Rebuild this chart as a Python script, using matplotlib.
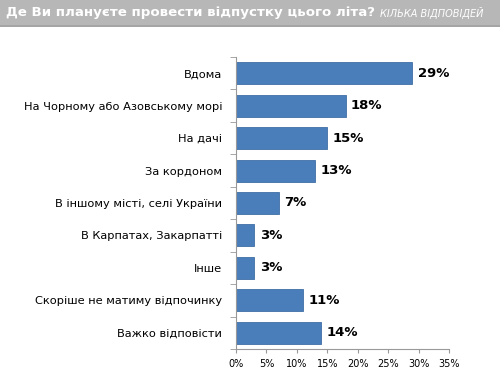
import matplotlib.pyplot as plt
from matplotlib.ticker import FuncFormatter, MultipleLocator
import matplotlib.patches as mpatches

categories = ["Вдома", "На Чорному або Азовському морі", "На дачі", "За кордоном",
              "В іншому місті, селі України", "В Карпатах, Закарпатті", "Інше",
              "Скоріше не матиму відпочинку", "Важко відповісти"]
values = [29, 18, 15, 13, 7, 3, 3, 11, 14]
title_main = "Де Ви плануєте провести відпустку цього літа?"
title_sub = "КІЛЬКА ВІДПОВІДЕЙ"

fig = plt.figure(figsize=(5, 3.71), dpi=100)
fig.patch.set_facecolor("white")

# title band
band = mpatches.Rectangle((0, 1 - 25/371), 1, 25/371, transform=fig.transFigure,
                          facecolor="#b7b7b7", edgecolor="none", zorder=0)
fig.patches.append(band)
line = mpatches.Rectangle((0, 1 - 26.5/371), 1, 1.5/371, transform=fig.transFigure,
                          facecolor="#a5a5a5", edgecolor="none", zorder=0)
fig.patches.append(line)
t1 = fig.text(6/500, 1 - 12.5/371, title_main, color="white", fontsize=9.6,
              fontweight="bold", family="DejaVu Sans", va="center", ha="left")
fig.canvas.draw()
bb = t1.get_window_extent()
fig.text(bb.x1/500 + 5/500, 1 - 13/371, title_sub, color="white", fontsize=7,
         style="italic", family="DejaVu Sans", va="center", ha="left")

ax = fig.add_axes([236/500, 1 - 349/371, 213/500, (349 - 57)/371])
y = list(range(len(categories)))
ax.barh(y, values, height=0.68, color="#4a7ebb", edgecolor="#3f6fa6", linewidth=0.6)
ax.set_ylim(len(categories) - 0.5, -0.5)
ax.set_xlim(0, 35)
ax.xaxis.set_major_locator(MultipleLocator(5))
ax.xaxis.set_major_formatter(FuncFormatter(lambda v, p: f"{int(v)}%"))
ax.set_yticks(y)
ax.set_yticklabels(categories, fontsize=8.2, family="DejaVu Sans")
ax.tick_params(axis="y", length=0, pad=10)
ax.set_yticks([i + 0.5 for i in range(-1, len(categories))], minor=True)
ax.tick_params(axis="y", which="minor", length=4, color="#999999", direction="out")
ax.tick_params(axis="x", labelsize=7, length=3, color="#999999", pad=4)
for s in ["top", "right"]:
    ax.spines[s].set_visible(False)
for s in ["left", "bottom"]:
    ax.spines[s].set_color("#999999")
    ax.spines[s].set_linewidth(0.8)
for yi, v in zip(y, values):
    ax.text(v + 0.9, yi, f"{v}%", va="center", ha="left", fontsize=9.5,
            fontweight="bold", family="DejaVu Sans")

fig.savefig("out.png", dpi=100)
